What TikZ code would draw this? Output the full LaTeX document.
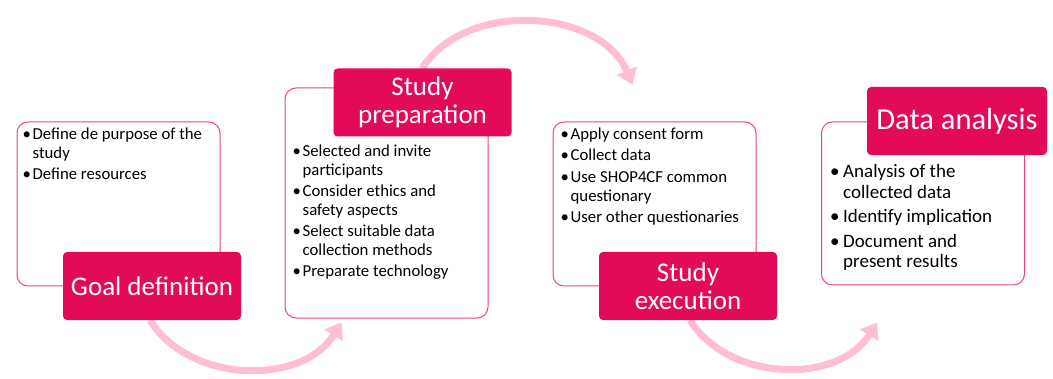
\documentclass[tikz,border=0pt]{standalone}
\usepackage{fontspec}
\setmainfont{Carlito}
\usetikzlibrary{arrows.meta,backgrounds}
\definecolor{headpink}{RGB}{228,10,90}
\definecolor{edgepink}{RGB}{232,70,125}
\definecolor{flowpink}{RGB}{255,190,214}
\newcommand{\bul}[1][10pt]{\makebox[#1][l]{\textbullet}}
\newcommand{\ind}[1][10pt]{\hspace*{#1}}

\begin{document}
\begin{tikzpicture}[x=1pt, y=1pt,
  panel/.style={draw=edgepink, line width=1pt, fill=white, rounded corners=11pt, minimum width=203pt},
  head/.style={fill=headpink, text=white, rounded corners=4pt, align=center, minimum width=178pt, minimum height=68pt, font=\fontsize{27}{28}\selectfont},
  items/.style={anchor=base west, align=left, inner sep=0pt, font=\fontsize{16.75}{19}\selectfont},
  flow/.style={draw=flowpink, line width=7pt, -{Triangle[width=21pt,length=15pt]}}]
\useasboundingbox (0,0) rectangle (1053,378);

% panels and their titles
\node[panel, minimum height=164pt] (goalbox) at (118.5,174) {};
\node[head] (goal) at (152,92) {Goal definition};
\node[panel, minimum height=230pt] (prepbox) at (386.5,175) {};
\node[head] (prep) at (422.5,275.5) {Study\\preparation};
\node[panel, minimum height=164pt] (execbox) at (654.5,174) {};
\node[head] (exec) at (688,92) {Study\\execution};
\node[panel, minimum height=163pt] (anabox) at (923,174.5) {};
\node[head, minimum width=180pt, font=\fontsize{30.5}{31}\selectfont] (ana) at (957,257) {Data analysis};

% bullet lists (base = last line)
\node[items] (goallist) at (22.5,198.5) {\bul Define de purpose of the\\ \ind study\\[2pt] \bul Define resources};
\node[items] (preplist) at (292.5,101.5) {\bul Selected and invite\\ \ind participants\\[2pt] \bul Consider ethics and\\ \ind safety aspects\\[2pt] \bul Select suitable data\\ \ind collection methods\\[2pt] \bul Preparate technology};
\node[items] (execlist) at (560.5,155.3) {\bul Apply consent form\\[2.5pt] \bul Collect data\\[2.5pt] \bul Use SHOP4CF common\\ \ind questionary\\[2.5pt] \bul User other questionaries};
\node[items, font=\fontsize{19}{20.5}\selectfont] (analist) at (830,110.3) {\bul[13pt]Analysis of the\\ \ind[13pt]collected data\\[4pt] \bul[13pt]Identify implication\\[4pt] \bul[13pt]Document and\\ \ind[13pt]present results};

% arrows from step to step
\begin{scope}[on background layer]
\draw[flow] ([xshift=-2pt]goal.south) to[out=-58,in=238] ([shift={(57,-4)}]prepbox.south west);
\draw[flow] ([xshift=-0.5pt]prep.north) to[out=57,in=113] ([shift={(80,37)}]execbox.north west);
\draw[flow] ([xshift=2pt]exec.south) to[out=-58,in=238] ([shift={(56,-37)}]anabox.south west);
\end{scope}
\end{tikzpicture}
\end{document}
